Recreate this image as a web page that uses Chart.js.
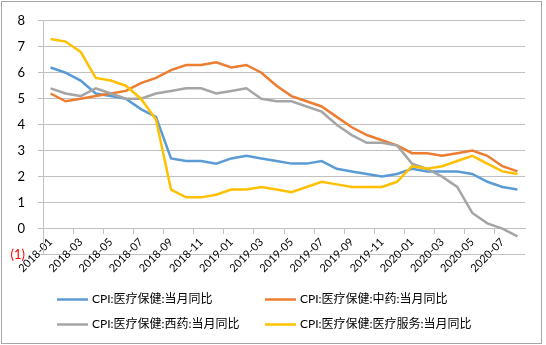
<!DOCTYPE html>
<html><head><meta charset="utf-8">
<script src="https://cdn.jsdelivr.net/npm/chart.js@4"></script>
<style>html,body{margin:0;padding:0;background:#fff}canvas{display:block}</style>
</head><body>
<canvas id="c" width="546" height="345"></canvas>
<script>
const months = ['2018-01','2018-02','2018-03','2018-04','2018-05','2018-06','2018-07','2018-08','2018-09','2018-10','2018-11','2018-12',
  '2019-01','2019-02','2019-03','2019-04','2019-05','2019-06','2019-07','2019-08','2019-09','2019-10','2019-11','2019-12',
  '2020-01','2020-02','2020-03','2020-04','2020-05','2020-06','2020-07','2020-08'];
const cpiMedical = [6.2,6.0,5.7,5.2,5.1,5.0,4.6,4.3,2.7,2.6,2.6,2.5,2.7,2.8,2.7,2.6,2.5,2.5,2.6,2.3,2.2,2.1,2.0,2.1,2.3,2.2,2.2,2.2,2.1,1.8,1.6,1.5];
const cpiTcm = [5.2,4.9,5.0,5.1,5.2,5.3,5.6,5.8,6.1,6.3,6.3,6.4,6.2,6.3,6.0,5.5,5.1,4.9,4.7,4.3,3.9,3.6,3.4,3.2,2.9,2.9,2.8,2.9,3.0,2.8,2.4,2.2];
const cpiWestern = [5.4,5.2,5.1,5.4,5.2,5.0,5.0,5.2,5.3,5.4,5.4,5.2,5.3,5.4,5.0,4.9,4.9,4.7,4.5,4.0,3.6,3.3,3.3,3.2,2.5,2.3,2.0,1.6,0.6,0.2,0.0,-0.3];
const cpiService = [7.3,7.2,6.8,5.8,5.7,5.5,5.0,4.2,1.5,1.2,1.2,1.3,1.5,1.5,1.6,1.5,1.4,1.6,1.8,1.7,1.6,1.6,1.6,1.8,2.4,2.3,2.4,2.6,2.8,2.5,2.2,2.1];
const seriesNames = ['CPI:医疗保健:当月同比','CPI:医疗保健:中药:当月同比','CPI:医疗保健:西药:当月同比','CPI:医疗保健:医疗服务:当月同比'];
const yTicks = [-1,0,1,2,3,4,5,6,7,8];

const colors = ['#5B9BD5','#ED7D31','#A5A5A5','#FFC000'];
const seriesData = [cpiMedical, cpiTcm, cpiWestern, cpiService];
const LATIN = 'Lato, "Noto Sans CJK SC", sans-serif';
const gridCol = '#c0c0c0';

const frameAndLegend = {
  id: 'frameAndLegend',
  beforeDraw(chart) {
    const ctx = chart.ctx;
    ctx.save();
    ctx.fillStyle = '#fff';
    ctx.fillRect(0, 0, chart.width, chart.height);
    ctx.strokeStyle = '#a6a6a6';
    ctx.lineWidth = 1;
    ctx.strokeRect(1.5, 1.5, 540, 342);
    ctx.restore();
  },
  afterDraw(chart) {
    const ctx = chart.ctx;
    const cols = [57, 265];
    const rows = [299.5, 324.5];
    ctx.save();
    chart.data.datasets.forEach((ds, i) => {
      const x = cols[i % 2];
      const y = rows[Math.floor(i / 2)];
      ctx.strokeStyle = ds.borderColor;
      ctx.lineWidth = 2.5;
      ctx.beginPath();
      ctx.moveTo(x, y);
      ctx.lineTo(x + 31, y);
      ctx.stroke();
      ctx.fillStyle = '#000';
      ctx.font = '12px ' + LATIN;
      ctx.textBaseline = 'middle';
      ctx.textAlign = 'left';
      ctx.fillText(ds.label, x + 35, y);
    });
    ctx.restore();
  }
};

new Chart(document.getElementById('c'), {
  type: 'line',
  data: {
    labels: months,
    datasets: seriesNames.map((name, i) => ({
      label: name,
      data: seriesData[i],
      borderColor: colors[i],
      backgroundColor: colors[i],
      borderWidth: 2.5,
      pointRadius: 0,
      tension: 0,
      order: 3 - i
    }))
  },
  options: {
    responsive: false,
    animation: false,
    layout: { padding: { top: 17.3, left: 0, right: 21, bottom: 90.5 } },
    plugins: { legend: { display: false }, tooltip: { enabled: false } },
    scales: {
      x: {
        type: 'category',
        offset: true,
        position: { y: 0 },
        grid: {
          offset: true,
          drawOnChartArea: false,
          drawTicks: true,
          tickLength: 5,
          tickColor: (c) => (c.index % 2 === 0 ? gridCol : 'rgba(0,0,0,0)')
        },
        border: { display: true, color: gridCol, width: 1 },
        ticks: {
          autoSkip: false,
          maxRotation: 45,
          minRotation: 45,
          padding: 2,
          color: '#000',
          font: { family: LATIN, size: 11 },
          callback: function (v, i) { return i % 2 === 0 ? this.getLabelForValue(v) : ''; }
        }
      },
      y: {
        min: -1,
        max: 8,
        afterBuildTicks: (s) => { s.ticks = yTicks.map(v => ({ value: v })); },
        afterFit: (s) => { s.width = 43; },
        grid: { color: gridCol, tickLength: 5, tickColor: gridCol },
        border: { display: true, color: gridCol, width: 1 },
        ticks: {
          padding: 13,
          font: { family: LATIN, size: 13 },
          color: (c) => (c.tick && c.tick.value < 0 ? '#ff0000' : '#000'),
          callback: (v) => (v < 0 ? '(' + Math.abs(v) + ')' : String(v))
        }
      }
    }
  },
  plugins: [frameAndLegend]
});
</script>
</body></html>
